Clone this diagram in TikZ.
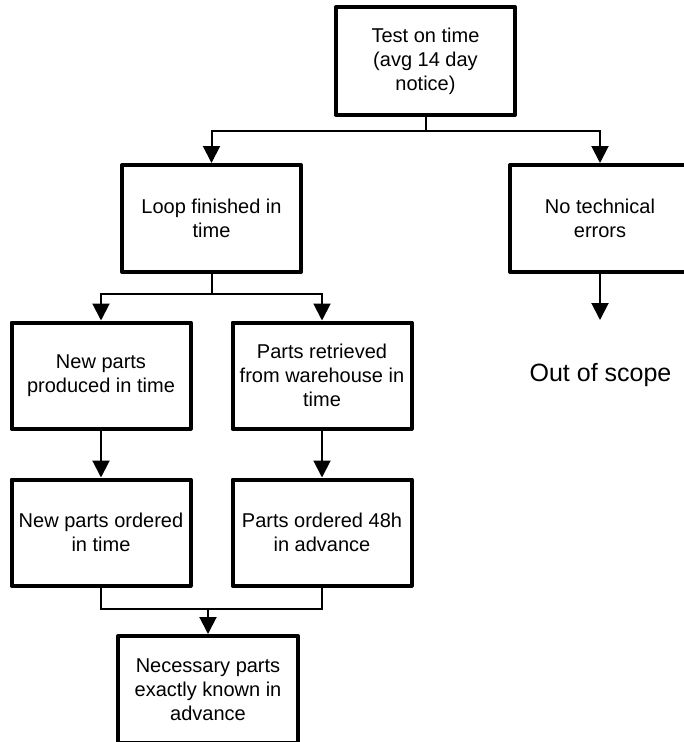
\documentclass[tikz,border=0pt]{standalone}
\usepackage{fontspec}
\setmainfont{Liberation Sans}
\usetikzlibrary{arrows.meta}

\begin{document}
\begin{tikzpicture}[x=1pt,y=-1pt,
    block/.style={draw,line width=4pt,line join=round,minimum width=179pt,minimum height=106pt,
      inner sep=0pt,align=center,font=\fontsize{20pt}{24pt}\selectfont},
    link/.style={line width=2pt},
    arr/.style={link,-{Triangle[length=17pt,width=17pt]}}]
  \clip (0,0) rectangle (684,742);
  \node[block,minimum height=108pt] (test) at (425.5,61) {Test on time\\(avg 14 day\\notice)};
  \node[block,minimum height=107pt] (loop) at (211.5,218.5) {Loop finished in\\time};
  \node[block,minimum height=107pt,minimum width=180pt] (notech) at (600,218.5) {No technical\\errors};
  \node[font=\fontsize{25pt}{30pt}\selectfont] (scope) at (600.5,375) {Out of scope};
  \node[block] (newprod) at (101,375.5) {New parts\\produced in time};
  \node[block] (retr) at (322,375.5) {Parts retrieved\\from warehouse in\\time};
  \node[block] (neword) at (101,532.5) {New parts ordered\\in time};
  \node[block] (ord48) at (322,532.5) {Parts ordered 48h\\in advance};
  \node[block,minimum height=107pt,minimum width=180pt] (need) at (208,689.5) {Necessary parts\\exactly known in\\advance};
  % first split
  \draw[link] (test.south) -- ++(0,14) coordinate (fork1);
  \draw[arr] (fork1) -| (loop.north);
  \draw[arr] (fork1) -| (notech.north);
  \draw[arr] (notech.south) -- ++(0,46);
  % second split
  \draw[link] (loop.south) -- ++(0,20) coordinate (fork2);
  \draw[arr] (fork2) -| (newprod.north);
  \draw[arr] (fork2) -| (retr.north);
  \draw[arr] (newprod) -- (neword);
  \draw[arr] (retr) -- (ord48);
  % merge
  \draw[link] (neword.south) -- ++(0,21) coordinate (merge) -| (ord48.south);
  \draw[arr] (merge -| need.north) -- (need.north);
\end{tikzpicture}
\end{document}
